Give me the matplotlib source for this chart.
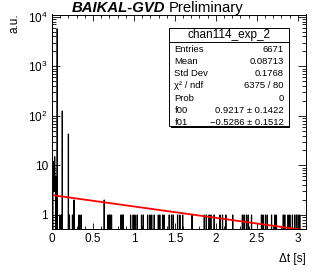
import numpy as np
import matplotlib
matplotlib.use("Agg")
import matplotlib.pyplot as plt
from matplotlib.patches import Rectangle
from matplotlib.ticker import FixedLocator, FuncFormatter, LogLocator, NullFormatter, MultipleLocator

plt.rcParams["font.family"] = ["Liberation Sans", "DejaVu Sans"]
plt.rcParams["mathtext.fontset"] = "custom"
plt.rcParams["mathtext.rm"] = "Liberation Sans"
plt.rcParams["mathtext.it"] = "Liberation Sans:italic"
plt.rcParams["mathtext.bf"] = "Liberation Sans:bold"

# histogram content (non-empty bins only), dt in seconds
near_zero_t = [0.013, 0.016, 0.019, 0.022, 0.025, 0.028, 0.031, 0.034, 0.037, 0.040, 0.043, 0.047]
near_zero_n = [4, 9, 12, 6, 3, 8, 5, 10, 7, 4, 3, 6]
peak_t = [0.065, 0.126, 0.199]
peak_n = [5700, 125, 43]
double_t = [0.268, 0.638]
single_t = [0.098, 0.116, 0.213, 0.250, 0.329, 0.354, 0.683, 0.701,
            0.707, 0.728, 0.841, 0.857, 0.870, 0.960, 0.991, 1.012, 1.040, 1.094,
            1.113, 1.167, 1.195, 1.216, 1.248, 1.296,
            1.317, 1.350, 1.370, 1.430, 1.460, 1.479, 1.533, 1.561, 1.594, 1.711,
            1.857, 1.884, 1.918, 1.939, 1.979, 2.052, 2.082, 2.122, 2.207, 2.323,
            2.345, 2.374, 2.394, 2.435, 2.557, 2.573, 2.604, 2.628, 2.679, 2.720,
            2.740, 2.821, 2.841, 2.882, 2.902, 2.935, 2.963, 2.984, 3.004, 3.024]

# exponential fit exp(f00 + f01*t)
f00, f01 = 0.9217, -0.5286

stats_rows = [("Entries", "6671"),
              ("Mean", "0.08713"),
              ("Std Dev", "0.1768"),
              ("χ² / ndf", "6375 / 80"),
              ("Prob", "0"),
              ("f00", "0.9217 ± 0.1422"),
              ("f01", "−0.5286 ± 0.1512")]

W, H = 322, 273
def fx(x): return x / W
def fy(y): return 1 - y / H

fig = plt.figure(figsize=(W / 100, H / 100), dpi=100)
ax = fig.add_axes([fx(52), fy(229), (306 - 52) / W, (229 - 14.5) / H])

t_all = near_zero_t + peak_t + double_t + single_t
n_all = near_zero_n + peak_n + [2] * len(double_t) + [1] * len(single_t)
edges = np.linspace(0, 3.1, 1001)
counts, _ = np.histogram(t_all, bins=edges, weights=n_all)
floor = 1e-2
counts = np.where(counts > 0, counts, floor)
ax.stairs(counts, edges, baseline=floor, color="black", lw=0.8)

tf = np.linspace(0, 3.1, 200)
ax.plot(tf, np.exp(f00 + f01 * tf), color="red", lw=1.3)

ax.set_yscale("log")
ax.set_xlim(0, 3.1)
ax.set_ylim(0.52, 1.11e4)

def ylab(v, pos):
    e = int(round(np.log10(v)))
    if e == 0:
        return "1"
    if e == 1:
        return "10"
    return r"$\mathregular{10^{%d}}$" % e

ax.yaxis.set_major_locator(FixedLocator([1, 10, 100, 1000, 10000]))
ax.yaxis.set_major_formatter(FuncFormatter(ylab))
ax.yaxis.set_minor_locator(LogLocator(base=10, subs=np.arange(2, 10)))
ax.yaxis.set_minor_formatter(NullFormatter())
ax.xaxis.set_major_locator(MultipleLocator(0.5))
ax.xaxis.set_minor_locator(MultipleLocator(0.1))
ax.xaxis.set_major_formatter(FuncFormatter(lambda v, p: "%g" % v))

ax.tick_params(which="both", direction="in", top=True, right=True, width=0.6,
               labelsize=8.5, colors="black")
ax.tick_params(axis="x", which="major", length=4.6, pad=3)
ax.tick_params(axis="x", which="minor", length=2.3)
ax.tick_params(axis="y", which="major", length=5.5, pad=3)
ax.tick_params(axis="y", which="minor", length=2.7)
for s in ax.spines.values():
    s.set_linewidth(0.7)

fig.text(fx(306), fy(259), "Δt [s]", ha="right", va="center", fontsize=8.5)
fig.text(fx(15), fy(13), "a.u.", ha="center", va="top", rotation=90, fontsize=8.5)

fig.text(fx(72), fy(12), "BAIKAL-GVD", ha="left", va="baseline",
         fontsize=10.7, fontweight="bold", fontstyle="italic")
fig.text(fx(243), fy(12), "Preliminary", ha="right", va="baseline", fontsize=10.7)

# stats box
bx0, bx1, by0, by1 = 169, 288.5, 28, 126
fig.patches.append(Rectangle((fx(bx0 + 1.5), fy(by1 + 1.5)), (bx1 - bx0) / W, (by1 - by0) / H,
                             transform=fig.transFigure, facecolor="black", edgecolor="none"))
fig.patches.append(Rectangle((fx(bx0), fy(by1)), (bx1 - bx0) / W, (by1 - by0) / H,
                             transform=fig.transFigure, facecolor="white", edgecolor="black", lw=0.7))
fig.add_artist(plt.Line2D([fx(bx0), fx(bx1)], [fy(42), fy(42)], transform=fig.transFigure,
                          color="black", lw=0.7))
fig.text(fx((bx0 + bx1) / 2), fy(35), "chan114_exp_2", ha="center", va="center", fontsize=8.5)
for i, (k, v) in enumerate(stats_rows):
    yy = fy(49 + i * 12.3)
    fig.text(fx(174.5), yy, k, ha="left", va="center", fontsize=6.8)
    fig.text(fx(283.5), yy, v, ha="right", va="center", fontsize=6.8)

fig.savefig("out.png", dpi=100)
